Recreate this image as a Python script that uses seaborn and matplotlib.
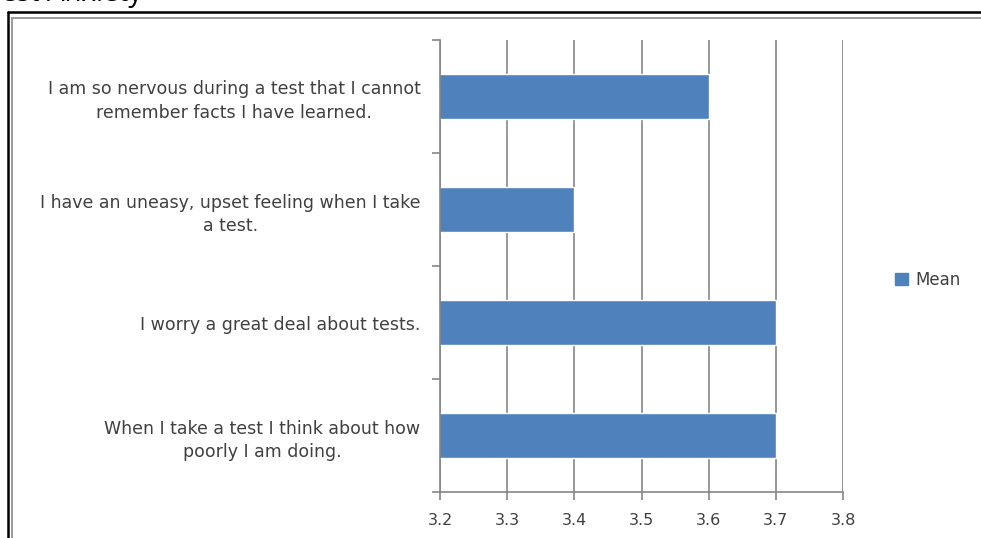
import matplotlib
matplotlib.use("Agg")
import matplotlib.pyplot as plt
import seaborn as sns
import pandas as pd
from matplotlib.lines import Line2D
from matplotlib.ticker import FixedLocator

categories = [
    "I am so nervous during a test that I cannot\nremember facts I have learned.",
    "I have an uneasy, upset feeling when I take\na test.",
    "I worry a great deal about tests.",
    "When I take a test I think about how\npoorly I am doing.",
]
means = [3.6, 3.4, 3.7, 3.7]
xticks = [3.2, 3.3, 3.4, 3.5, 3.6, 3.7, 3.8]
series_name = "Mean"
title = "Test Anxiety"

df = pd.DataFrame({"item": categories, "value": means, "series": series_name})

sns.set_style("white")
plt.rcParams["font.family"] = ["DejaVu Sans"]

W, H = 981, 538
fig = plt.figure(figsize=(W / 100, H / 100), dpi=100)
ax = fig.add_axes([440 / W, 1 - 492 / H, (843 - 440) / W, (492 - 40) / H])

bar_color = "#4F81BD"
sns.barplot(data=df, x="value", y="item", hue="series", palette=[bar_color],
            orient="h", width=0.4, ax=ax, legend=False, saturation=1)

txt_c = "#404040"
ax.set_xlim(3.2, 3.8)
ax.set_ylim(3.5, -0.5)
ax.set_xticks(xticks)
ax.set_xticklabels([f"{v:.1f}" for v in xticks], fontsize=11.5, color=txt_c)
ax.set_xlabel("")
ax.set_ylabel("")

grid_c = "#868686"
ax.grid(axis="x", color=grid_c, linewidth=1.2)
ax.set_axisbelow(True)
for s in ["top", "right"]:
    ax.spines[s].set_visible(False)
for s in ["left", "bottom"]:
    ax.spines[s].set_color(grid_c)
    ax.spines[s].set_linewidth(1.2)

ax.tick_params(axis="x", direction="out", length=6, width=1.2, color=grid_c,
               pad=9, bottom=True)
ax.yaxis.set_minor_locator(FixedLocator([-0.5, 0.5, 1.5, 2.5, 3.5]))
ax.tick_params(axis="y", which="minor", direction="out", length=6, width=1.2,
               color=grid_c, left=True)
ax.tick_params(axis="y", which="major", length=0, pad=14, left=True)
for lbl in ax.get_yticklabels():
    lbl.set_fontsize(12.5)
    lbl.set_color(txt_c)
    lbl.set_multialignment("center")
    lbl.set_linespacing(1.4)

# legend
handle = plt.Rectangle((0, 0), 1, 1, color=bar_color)
fig.legend([handle], [series_name], loc="center left",
           bbox_to_anchor=(880 / W, 1 - 280 / H), frameon=False,
           fontsize=12, handlelength=0.75, handleheight=0.75, handletextpad=0.45,
           labelcolor=txt_c)

# frame lines
def fl(x0, y0, x1, y1, c, lw):
    fig.add_artist(Line2D([x0 / W, x1 / W], [1 - y0 / H, 1 - y1 / H],
                          color=c, linewidth=lw, transform=fig.transFigure))

fl(8, 12, W + 5, 12, "black", 1.8)
fl(8, 12, 8, H + 5, "black", 1.8)
fl(12, 18, W + 5, 18, "#9a9a9a", 1.4)
fl(12, 18, 12, H + 5, "#9a9a9a", 1.4)

# partly visible title at the very top
fig.text(-14 / W, 1 + 6 / H, title, fontsize=20, color="black", va="center",
         ha="left", family="Open Sans")

fig.savefig("out.png", dpi=100)
